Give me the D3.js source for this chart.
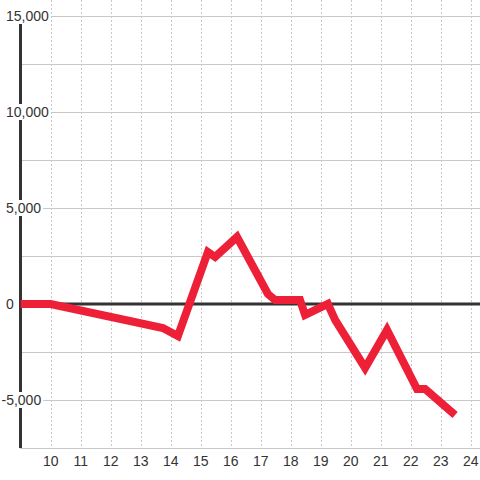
<!DOCTYPE html>
<html><head><meta charset="utf-8">
<script src="https://cdn.jsdelivr.net/npm/d3@7"></script>
<style>html,body{margin:0;padding:0;background:#fff;}svg{display:block;font-family:"Liberation Sans",Arial,sans-serif;}</style>
</head><body>
<svg id="c" width="480" height="480"></svg>
<script>
const xs = [9, 10, 13.74, 14.24, 15.24, 15.48, 16.21, 17.24, 17.48, 18.31, 18.48, 19.24, 19.48, 20.48, 21.21, 22.21, 22.48, 23.48];
const ys = [0, 0, -1250, -1670, 2710, 2450, 3490, 520, 210, 210, -570, 0, -830, -3330, -1350, -4430, -4430, -5780];
const xTicks = [10, 11, 12, 13, 14, 15, 16, 17, 18, 19, 20, 21, 22, 23, 24];
const yGrid = [15000, 12500, 10000, 7500, 5000, 2500, -2500, -5000, -7500];
const yLabels = [15000, 10000, 5000, 0, -5000];

const svg = d3.select("#c");
const x = d3.scaleLinear().domain([9, 24.31]).range([20.7, 480]);
const y = d3.scaleLinear().domain([-7500, 15000]).range([448, 16]);

// vertical dotted grid
svg.append("g").selectAll("line").data(xTicks).join("line")
  .attr("x1", d => Math.round(x(d)) + 0.5).attr("x2", d => Math.round(x(d)) + 0.5)
  .attr("y1", 0).attr("y2", 448)
  .attr("stroke", "#c8c8c8").attr("stroke-width", 1).attr("stroke-dasharray", "2,2");

// horizontal grid
svg.append("g").selectAll("line").data(yGrid).join("line")
  .attr("x1", 20).attr("x2", 480)
  .attr("y1", d => Math.round(y(d)) + 0.5).attr("y2", d => Math.round(y(d)) + 0.5)
  .attr("stroke", "#c8c8c8").attr("stroke-width", 1);

// y axis line
svg.append("line").attr("x1", 20.5).attr("x2", 20.5).attr("y1", y(15000)).attr("y2", y(-7500))
  .attr("stroke", "#333").attr("stroke-width", 3);

// zero line
svg.append("line").attr("x1", 20).attr("x2", 480).attr("y1", y(0)).attr("y2", y(0))
  .attr("stroke", "#333").attr("stroke-width", 3);

// line
const line = d3.line().x((d, i) => x(xs[i])).y((d, i) => y(ys[i]));
svg.append("path").datum(ys).attr("d", line)
  .attr("fill", "none").attr("stroke", "#ee2038").attr("stroke-width", 8)
  .attr("stroke-linejoin", "miter").attr("stroke-linecap", "butt");

// y labels with background
const fmt = d3.format(",");
const yl = svg.append("g").selectAll("g").data(yLabels).join("g")
  .attr("transform", d => `translate(${d < 0 ? 1.5 : 6},${y(d)})`);
yl.each(function(d) {
  const g = d3.select(this);
  const t = g.append("text").attr("text-anchor", "start").attr("dy", "0.35em")
    .attr("font-size", 14).attr("fill", "#333").text(fmt(d).replace("−", "-"));
  const w = t.node().getComputedTextLength();
  if (d !== 0) {
    g.insert("rect", "text").attr("x", -1).attr("y", -8).attr("width", w + 3).attr("height", 16).attr("fill", "#fff");
  }
});

// x labels
svg.append("g").selectAll("text").data(xTicks).join("text")
  .attr("x", d => x(d)).attr("y", 466).attr("text-anchor", "middle")
  .attr("font-size", 14).attr("fill", "#333").text(d => d);
</script>
</body></html>
